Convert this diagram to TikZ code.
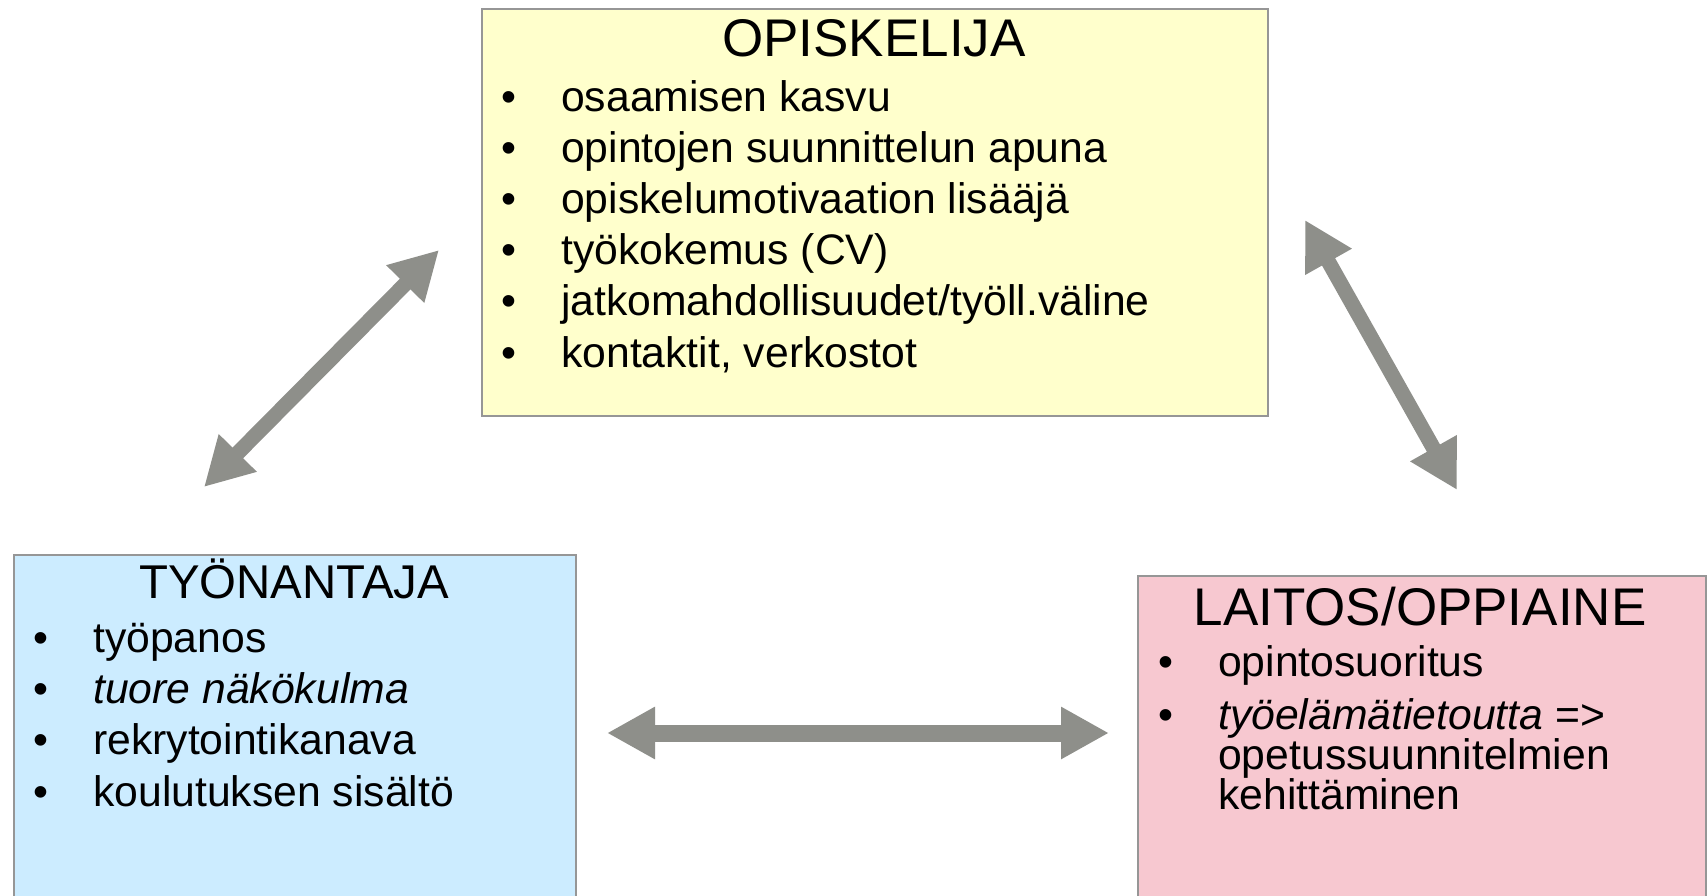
\documentclass[tikz,border=0pt]{standalone}
\usepackage{fontspec}
\setmainfont{Liberation Sans}
\usetikzlibrary{arrows.meta}
\definecolor{boxline}{RGB}{150,150,150}
\definecolor{yellowbox}{RGB}{255,255,204}
\definecolor{bluebox}{RGB}{204,236,255}
\definecolor{pinkbox}{RGB}{247,200,208}
\definecolor{arrowgray}{RGB}{142,143,138}
\newcommand{\bl}[1]{\makebox[60pt][l]{\textbullet}#1}
\tikzset{
  panel/.style={draw=boxline, line width=2pt, anchor=north west, inner sep=0pt},
  bigtitle/.style={anchor=base, inner sep=0pt, font=\fontsize{53}{60}\selectfont},
  midtitle/.style={anchor=base, inner sep=0pt, font=\fontsize{47.4}{54}\selectfont},
  item/.style={anchor=base west, inner sep=0pt, font=\fontsize{42.7}{51}\selectfont},
  biarrow/.style={draw=arrowgray, line width=15pt,
    {Triangle[length=48pt,width=50pt]}-{Triangle[length=48pt,width=50pt]}},
  harrow/.style={draw=arrowgray, line width=17pt,
    {Triangle[length=48pt,width=49pt]}-{Triangle[length=48pt,width=49pt]}}
}
\begin{document}
\begin{tikzpicture}[x=1pt,y=-1pt]
\useasboundingbox (0,0) rectangle (1708,896);
\fill[white] (0,0) rectangle (1708,896);
% boxes
\node[panel, fill=yellowbox, minimum width=786pt, minimum height=407pt] (opisk) at (481,8) {};
\node[panel, fill=bluebox, minimum width=562pt, minimum height=360pt] (tyon) at (13,554) {};
\node[panel, fill=pinkbox, minimum width=568pt, minimum height=340pt] (laitos) at (1137,575) {};
% OPISKELIJA
\node[bigtitle] (t1) at (874,57) {OPISKELIJA};
\node[item] (o1) at (501,111.5) {\bl{osaamisen kasvu}};
\node[item] (o2) at (501,162.5) {\bl{opintojen suunnittelun apuna}};
\node[item] (o3) at (501,213.5) {\bl{opiskelumotivaation lisääjä}};
\node[item] (o4) at (501,264.5) {\bl{työkokemus (CV)}};
\node[item] (o5) at (501,315.5) {\bl{jatkomahdollisuudet/työll.väline}};
\node[item] (o6) at (501,367.5) {\bl{kontaktit, verkostot}};
% TYÖNANTAJA
\node[midtitle] (t2) at (294,598) {TYÖNANTAJA};
\node[item] (w1) at (33,652) {\bl{työpanos}};
\node[item] (w2) at (33,703) {\bl{\itshape tuore näkökulma}};
\node[item] (w3) at (33,754) {\bl{rekrytointikanava}};
\node[item] (w4) at (33,806) {\bl{koulutuksen sisältö}};
% LAITOS/OPPIAINE
\node[bigtitle] (t3) at (1420,625) {LAITOS/OPPIAINE};
\node[item] (l1) at (1158,676) {\bl{opintosuoritus}};
\node[item] (l2) at (1158,729) {\bl{\textit{työelämätietoutta} =>}};
\node[item] (l3) at (1218,769) {opetussuunnitelmien};
\node[item] (l4) at (1218,809) {kehittäminen};
% arrows
\coordinate (a1s) at (204,487);
\coordinate (a1e) at (439,250);
\coordinate (a2s) at (1305,220);
\coordinate (a2e) at (1457,490);
\coordinate (a3s) at (607,733);
\coordinate (a3e) at (1109,733);
\draw[biarrow] (a1s) -- (a1e);
\draw[biarrow] (a2s) -- (a2e);
\draw[harrow] (a3s) -- (a3e);
\end{tikzpicture}
\end{document}
